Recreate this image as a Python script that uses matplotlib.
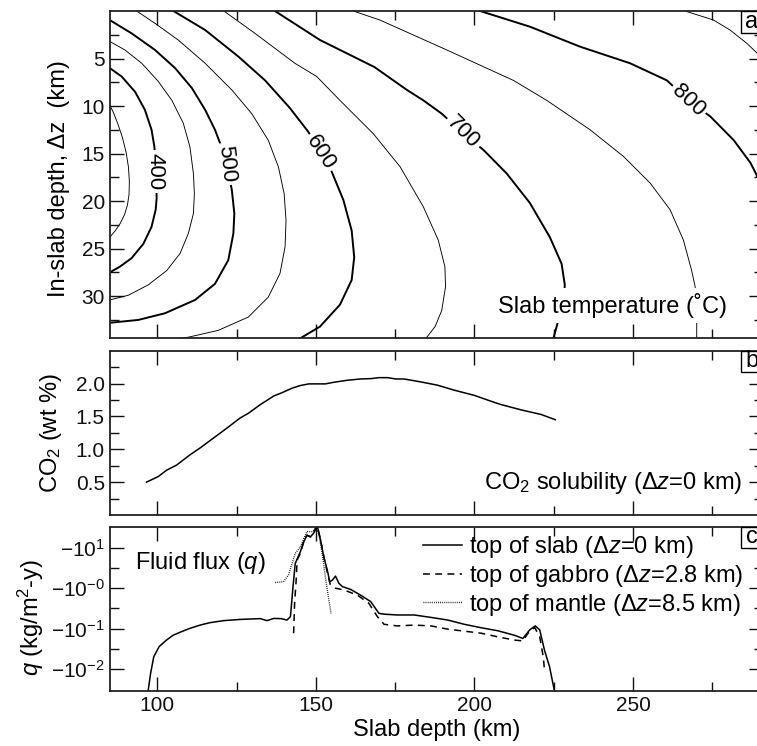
import matplotlib
matplotlib.use('Agg')
import matplotlib.pyplot as plt
import numpy as np
from matplotlib.patches import Rectangle
from matplotlib.transforms import ScaledTranslation
from matplotlib.ticker import FixedLocator, FixedFormatter, NullFormatter

plt.rcParams['font.family'] = ['Liberation Sans', 'DejaVu Sans']
plt.rcParams['mathtext.fontset'] = 'custom'
plt.rcParams['mathtext.rm'] = 'Liberation Sans'
plt.rcParams['mathtext.it'] = 'Liberation Sans:italic'
plt.rcParams['mathtext.bf'] = 'Liberation Sans:bold'

# ---------------- Panel a: temperature contours (slab depth km, in-slab depth km)
c350_depth = [85.0, 86.2, 87.6, 89.0, 90.2, 90.9, 91.2, 91.1, 90.6, 89.7, 88.4, 86.8, 85.0]
c350_dz    = [9.9, 10.7, 11.9, 13.3, 14.9, 16.4, 17.9, 19.3, 20.4, 21.4, 22.3, 23.1, 23.8]
c400_depth = [85.0, 88.8, 93.0, 96.1, 98.2, 99.1, 99.6, 99.8, 99.5, 98.2, 95.6, 91.9, 88.2, 85.0]
c400_dz    = [6.0, 6.9, 8.5, 10.4, 12.5, 14.3, 17.0, 19.7, 20.9, 22.7, 24.5, 26.0, 26.9, 27.5]
c450_depth = [85.0, 89.8, 95.1, 100.3, 104.6, 108.2, 110.3, 111.4, 111.7, 111.4, 109.8, 107.2,
              103.0, 97.2, 90.9, 85.0]
c450_dz    = [3.2, 4.1, 5.5, 7.4, 9.4, 11.8, 14.3, 17.1, 19.2, 21.3, 23.4, 25.5,
              27.3, 28.8, 29.9, 30.4]
c500_depth = [85.0, 91.9, 99.3, 105.6, 110.9, 115.1, 118.2, 119.8, 122.4, 123.5, 124.3, 124.0,
              122.4, 118.2, 111.9, 102.4, 94.0, 85.0]
c500_dz    = [0.95, 2.35, 4.1, 6.0, 8.1, 10.4, 12.5, 13.9, 17.0, 18.8, 21.3, 23.4,
              26.2, 28.7, 30.4, 31.8, 32.5, 32.8]
c550_depth = [93.5, 99.3, 106.6, 115.1, 123.5, 129.8, 135.0, 138.2, 140.0, 140.6, 140.3, 138.7,
              135.0, 128.7, 119.2, 110.0, 104.0]
c550_dz    = [0.0, 1.3, 3.05, 5.5, 8.3, 10.8, 13.6, 16.4, 19.2, 22.0, 24.8, 27.6,
              30.1, 32.2, 33.6, 34.3, 34.6]
c600_depth = [105.1, 115.1, 125.6, 134.0, 141.8, 147.6, 151.3, 155.0, 158.7, 161.3, 162.1, 161.3,
              157.6, 151.3, 145.0]
c600_dz    = [0.0, 2.0, 4.8, 7.3, 10.2, 12.7, 14.8, 16.9, 19.9, 23.1, 25.9, 28.3,
              30.9, 33.2, 34.45]
c650_depth = [121.0, 130.8, 143.4, 150.3, 157.6, 168.1, 176.6, 183.9, 188.6, 190.7, 190.9, 189.7,
              187.6, 184.7]
c650_dz    = [0.0, 2.35, 5.5, 6.9, 9.4, 12.9, 16.4, 20.6, 24.1, 26.9, 29.0, 31.5,
              33.2, 34.45]
c700_depth = [137.1, 151.3, 168.5, 178.7, 183.9, 189.7, 196.5, 202.8, 210.2, 217.5, 223.8, 227.5,
              228.5, 228.2, 226.5, 224.9]
c700_dz    = [0.0, 3.05, 5.9, 8.3, 9.4, 10.8, 12.9, 14.6, 17.1, 20.2, 23.8, 26.6,
              28.8, 30.5, 32.5, 34.45]
c750_depth = [161.8, 170.2, 191.3, 212.3, 222.8, 236.5, 247.0, 255.4, 261.7, 265.9, 268.5, 269.6,
              270.1, 270.1]
c750_dz    = [0.0, 0.95, 4.1, 7.3, 9.4, 12.5, 15.3, 18.1, 20.9, 24.1, 27.3, 29.0,
              31.8, 34.45]
c800_depth = [201.8, 217.5, 233.3, 249.1, 260.7, 267.5, 274.4, 281.8, 287.1, 289.2, 291.5]
c800_dz    = [0.0, 1.65, 3.75, 5.5, 7.3, 9.4, 11.1, 13.6, 16.0, 17.4, 18.6]
c850_depth = [266.4, 275.4, 280.6, 285.9, 289.2, 291.5]
c850_dz    = [0.0, 0.95, 2.0, 3.4, 4.45, 5.2]

contour_levels = [350, 400, 450, 500, 550, 600, 650, 700, 750, 800, 850]
contour_depths = [c350_depth, c400_depth, c450_depth, c500_depth, c550_depth, c600_depth,
                  c650_depth, c700_depth, c750_depth, c800_depth, c850_depth]
contour_dzs = [c350_dz, c400_dz, c450_dz, c500_dz, c550_dz, c600_dz,
               c650_dz, c700_dz, c750_dz, c800_dz, c850_dz]

# contour labels: level, slab depth, in-slab depth, angle
label_levels = [400, 500, 600, 700, 800]
label_depth  = [99.3, 121.9, 151.4, 196.5, 267.5]
label_dz     = [16.9, 16.1, 14.9, 12.8, 9.4]
label_angle  = [-90, -84, -57, -45, -43]

# ---------------- Panel b: CO2 solubility (wt %)
co2_depth = [96.6, 100.3, 102.9, 106.1, 110.3, 113.5, 117.7, 121.9, 126.1, 128.8, 132.5,
             136.7, 139.3, 142.5, 145.1, 147.8, 153.0, 155.7, 159.9, 164.1, 167.3, 169.9,
             172.6, 175.2, 177.8, 183.1, 188.4, 193.6, 200.0, 205.3, 208.4, 214.7, 221.0, 225.5]
co2_wt = [0.50, 0.585, 0.68, 0.76, 0.915, 1.02, 1.17, 1.32, 1.475, 1.55, 1.68,
          1.81, 1.86, 1.93, 1.97, 1.995, 1.995, 2.02, 2.05, 2.07, 2.075, 2.09,
          2.09, 2.07, 2.07, 2.025, 1.975, 1.90, 1.82, 1.73, 1.68, 1.60, 1.53, 1.45]

# ---------------- Panel c: fluid flux, log10(-q) in kg/m2-y
slab_depth = [97.0, 97.9, 98.9, 100.6, 102.9, 105.0, 107.7, 110.3, 113.5, 116.6, 120.9, 126.1,
              129.3, 132.5, 134.6, 136.7, 139.0, 140.9, 142.0, 142.8, 143.5, 145.1, 146.2,
              147.2, 148.3, 149.3, 150.4, 151.5, 152.5, 153.6, 154.4, 155.2, 156.2, 157.3,
              158.4, 161.0, 164.1, 167.3, 169.9, 171.5, 175.7, 181.0, 186.3, 191.6, 196.8,
              202.1, 207.4, 212.6, 215.3, 217.4, 219.2, 220.6, 222.1, 223.7, 225.4]
slab_logq = [-2.6, -2.10, -1.69, -1.44, -1.28, -1.16, -1.07, -0.99, -0.91, -0.85, -0.80, -0.77,
             -0.76, -0.75, -0.80, -0.745, -0.75, -0.785, -0.70, 0.04, 0.61, 0.90, 1.15,
             1.31, 1.27, 1.36, 1.55, 1.19, 0.78, 0.45, 0.16, 0.20, 0.30, 0.12,
             0.04, -0.03, -0.17, -0.33, -0.62, -0.64, -0.66, -0.66, -0.72, -0.785, -0.89,
             -0.975, -1.05, -1.16, -1.24, -1.03, -0.93, -1.03, -1.53, -1.94, -2.6]
gabbro_depth = [143.0, 143.3, 143.8, 144.1, 145.1, 146.2, 147.2, 148.3, 149.3, 150.4, 151.5,
                152.5, 153.6, 154.5, 156.2, 158.8, 163.1, 166.7, 169.4, 171.5, 175.7, 181.0,
                186.3, 191.6, 196.8, 202.1, 207.4, 212.6, 215.3, 216.9, 219.0, 220.6, 221.7, 222.1]
gabbro_logq = [-1.11, -0.37, 0.20, 0.70, 0.86, 1.15, 1.31, 1.27, 1.36, 1.55, 1.19,
               0.78, 0.40, 0.10, 0.0, -0.04, -0.17, -0.37, -0.70, -0.89, -0.93, -0.91,
               -0.93, -1.01, -1.06, -1.11, -1.20, -1.28, -1.30, -1.11, -0.97, -1.20, -1.69, -2.02]
mantle_depth = [137.2, 139.8, 141.4, 142.5, 143.5, 145.1, 146.2, 147.2, 148.8, 149.9, 150.9,
                152.0, 153.0, 154.1, 154.8]
mantle_logq = [0.14, 0.16, 0.33, 0.61, 0.86, 1.02, 1.23, 1.40, 1.40, 1.48, 1.36,
               0.86, 0.28, -0.29, -0.62]

flux_ticks = [0.01, 0.1, 1.0, 10.0]
flux_ticklabels = [r'$-10^{-2}$', r'$-10^{-1}$', r'$-10^{-0}$', r'$-10^{1}$']

x_major = [100, 150, 200, 250]
x_minor = [125, 175, 225, 275]

# ---------------- figure
W, H = 757, 746
fig = plt.figure(figsize=(W / 100, H / 100), dpi=100)

def fr(px_left, px_top, px_right, px_bottom):
    return [px_left / W, 1 - px_bottom / H, (px_right - px_left) / W, (px_bottom - px_top) / H]

L, R = 109.7, 763.0
axa = fig.add_axes(fr(L, 11, R, 338))
axb = fig.add_axes(fr(L, 350.7, R, 515))
axc = fig.add_axes(fr(L, 526.7, R, 690.7))

TICK_FS = 15
TEXT_FS = 17
for ax in (axa, axb, axc):
    ax.set_xlim(85, 291)
    ax.xaxis.set_major_locator(FixedLocator(x_major))
    ax.xaxis.set_minor_locator(FixedLocator(x_minor))
    ax.tick_params(which='both', direction='in', top=True, right=True, width=1.0,
                   labelsize=TICK_FS, colors='#111111')
    ax.tick_params(which='major', length=10)
    ax.tick_params(which='minor', length=6.5)
    for s in ax.spines.values():
        s.set_linewidth(1.3)
        s.set_color('#222222')
for ax in (axa, axb):
    ax.tick_params(labelbottom=False)
axc.set_xticklabels([str(v) for v in x_major])
axc.set_xlabel('Slab depth (km)', fontsize=TEXT_FS, labelpad=3)

# panel a
for lev, xs, zs in zip(contour_levels, contour_depths, contour_dzs):
    thick = (lev % 100 == 0)
    axa.plot(xs, zs, color='black', lw=1.4 if thick else 0.65, solid_joinstyle='round')
for lev, x, z, ang in zip(label_levels, label_depth, label_dz, label_angle):
    axa.text(x, z, str(lev), rotation=ang, ha='center', va='center', fontsize=16,
             rotation_mode='anchor',
             bbox=dict(boxstyle='square,pad=0.12', fc='white', ec='none'))
axa.set_ylim(34.4, 0)
axa.yaxis.set_major_locator(FixedLocator([5, 10, 15, 20, 25, 30]))
axa.yaxis.set_minor_locator(FixedLocator([2.5, 7.5, 12.5, 17.5, 22.5, 27.5, 32.5]))
axa.set_ylabel('In-slab depth, \u0394z  (km)', fontsize=TEXT_FS)
axa.yaxis.set_label_coords(-0.0608, 0.488)
axa.text(0.945, 0.10, 'Slab temperature (\u02daC)', transform=axa.transAxes, ha='right',
         va='center', fontsize=TEXT_FS,
         bbox=dict(boxstyle='square,pad=0.2', fc='white', ec='none'))

# panel b
axb.plot(co2_depth, co2_wt, color='black', lw=1.1)
axb.set_ylim(0, 2.5)
axb.yaxis.set_major_locator(FixedLocator([0.5, 1.0, 1.5, 2.0]))
axb.yaxis.set_major_formatter(FixedFormatter(['0.5', '1.0', '1.5', '2.0']))
axb.yaxis.set_minor_locator(FixedLocator([0.25, 0.75, 1.25, 1.75, 2.25]))
axb.set_ylabel('CO$_2$ (wt %)', fontsize=TEXT_FS)
axb.yaxis.set_label_coords(-0.070, 0.5)
axb.text(0.968, 0.195, 'CO$_2$ solubility (\u0394$z$=0 km)', transform=axb.transAxes,
         ha='right', va='center', fontsize=TEXT_FS)

# panel c
axc.set_yscale('log')
axc.plot(slab_depth, 10 ** np.array(slab_logq), color='black', lw=1.1,
         label='top of slab (\u0394$z$=0 km)')
axc.plot(gabbro_depth, 10 ** np.array(gabbro_logq), color='black', lw=1.1,
         dashes=(4.5, 3.5), label='top of gabbro (\u0394$z$=2.8 km)')
axc.plot(mantle_depth, 10 ** np.array(mantle_logq), color='black', lw=1.0,
         dashes=(0.6, 0.9), label='top of mantle (\u0394$z$=8.5 km)')
axc.set_ylim(10 ** -2.53, 10 ** 1.52)
axc.yaxis.set_major_locator(FixedLocator(flux_ticks))
axc.yaxis.set_major_formatter(FixedFormatter(flux_ticklabels))
axc.yaxis.set_minor_locator(FixedLocator([10 ** -1.5, 10 ** -0.5, 10 ** 0.5]))
axc.yaxis.set_minor_formatter(NullFormatter())
axc.set_ylabel('$q$ (kg/m$^2$-y)', fontsize=TEXT_FS)
axc.yaxis.set_label_coords(-0.0975, 0.449)
axc.text(0.0387, 0.779, 'Fluid flux ($q$)', transform=axc.transAxes, ha='left',
         va='center', fontsize=TEXT_FS)
leg = axc.legend(loc='upper left', bbox_to_anchor=(0.4796, 0.955), frameon=False,
                 fontsize=TEXT_FS, borderpad=0, borderaxespad=0, handlelength=1.65,
                 handletextpad=0.3, labelspacing=0.12)

# panel tags
for ax, tag in ((axa, 'a'), (axb, 'b'), (axc, 'c')):
    trans = fig.dpi_scale_trans + ScaledTranslation(1, 1, ax.transAxes)
    ax.add_patch(Rectangle((-0.22, -0.215), 0.22, 0.215, transform=trans, fc='white',
                           ec='black', lw=1.0, clip_on=False, zorder=5))
    ax.text(-0.11, -0.105, tag, transform=trans, ha='center', va='center',
            fontsize=TEXT_FS, zorder=6, clip_on=False)

fig.savefig('out.png', dpi=100)
